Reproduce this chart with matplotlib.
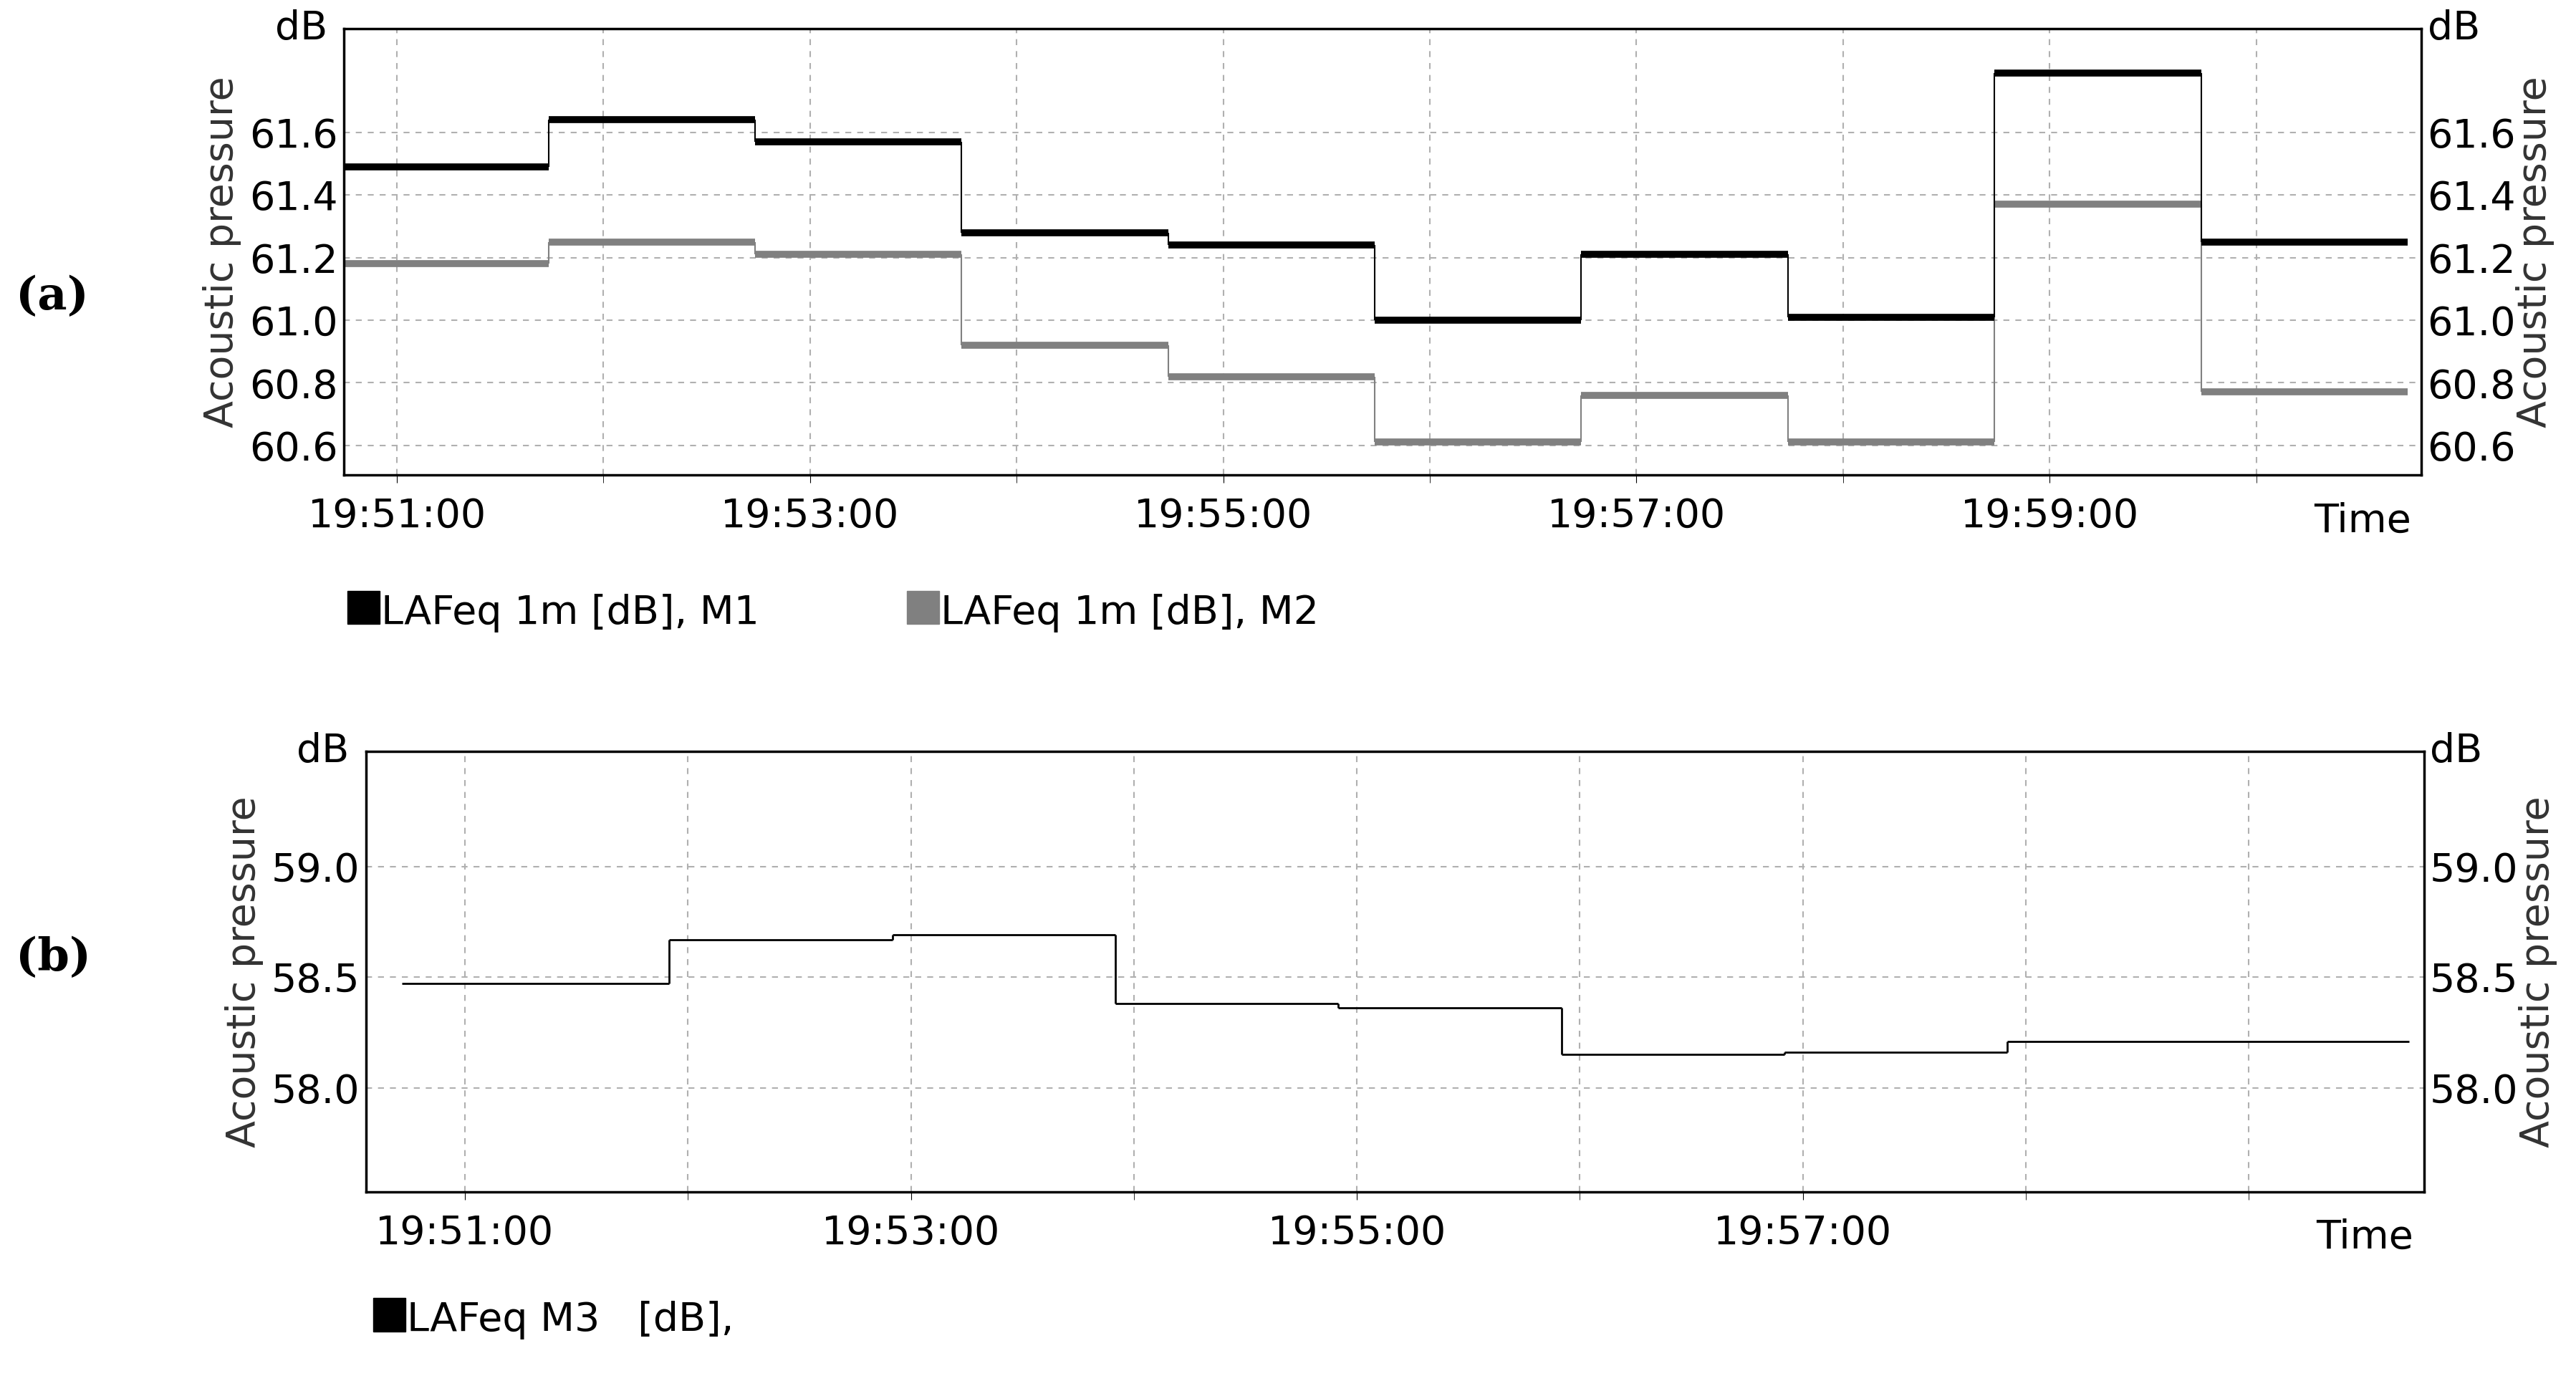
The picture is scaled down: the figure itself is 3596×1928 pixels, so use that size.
import matplotlib
matplotlib.use("Agg")
import matplotlib.pyplot as plt
import numpy as np

# time in minutes after 19:50:00
a_starts = [44/60 + i for i in range(10)]
a_step = 1.0
m1 = [61.49, 61.64, 61.57, 61.28, 61.24, 61.00, 61.21, 61.01, 61.79, 61.25]
m2 = [61.18, 61.25, 61.21, 60.92, 60.82, 60.61, 60.76, 60.61, 61.37, 60.77]
a_yticks = [60.6, 60.8, 61.0, 61.2, 61.4, 61.6]
a_xticks = [1, 3, 5, 7, 9]
a_xlabels = ["19:51:00", "19:53:00", "19:55:00", "19:57:00", "19:59:00"]

b_bounds = [43/60, 1+55/60, 2+55/60, 3+55/60, 4+55/60, 5+55/60, 6+55/60, 7+55/60, 9+43/60]
m3 = [58.47, 58.67, 58.69, 58.38, 58.36, 58.15, 58.16, 58.21]
b_yticks = [58.0, 58.5, 59.0]
b_xticks = [1, 3, 5, 7]
b_xlabels = ["19:51:00", "19:53:00", "19:55:00", "19:57:00"]

plt.rcParams['font.family'] = ['DejaVu Sans']
fig = plt.figure(figsize=(35.96, 19.28), dpi=100)
FS = 40
gridkw = dict(color='#b0b0b0', linestyle=(0, (4, 4)), linewidth=1.5)

def style(ax, ylim, xlim, yticks, ytfmt, xticks, xlabels):
    ax.set_xlim(*xlim); ax.set_ylim(*ylim)
    ax.set_yticks(yticks)
    ax.set_yticklabels([ytfmt % v for v in yticks], fontsize=FS)
    ax.set_xticks(xticks)
    ax.set_xticklabels(xlabels, fontsize=FS)
    ax.set_xticks(np.arange(np.ceil(xlim[0]), xlim[1], 1), minor=True)
    ax.xaxis.grid(True, which='both', **gridkw)
    ax.yaxis.grid(True, **gridkw)
    ax.tick_params(axis='x', which='both', length=8, pad=14)
    ax.tick_params(axis='y', length=0, pad=6)
    for s in ax.spines.values():
        s.set_linewidth(2.5)
    ax.set_ylabel("Acoustic pressure", fontsize=FS, color='#333333', labelpad=8)
    ax.text(-0.008, 1.0, "dB", transform=ax.transAxes, ha='right', va='center', fontsize=FS)
    ax.text(0.995, -0.06, "Time", transform=ax.transAxes, ha='right', va='top', fontsize=FS)
    ax2 = ax.twinx()
    ax2.set_ylim(*ylim)
    ax2.set_yticks(yticks)
    ax2.set_yticklabels([ytfmt % v for v in yticks], fontsize=FS)
    ax2.tick_params(axis='y', length=0, pad=6)
    ax2.set_ylabel("Acoustic pressure", fontsize=FS, color='#333333', rotation=90, labelpad=0)
    ax2.text(1.003, 1.0, "dB", transform=ax.transAxes, ha='left', va='center', fontsize=FS)
    return ax2

# panel (a)
ax = fig.add_axes([0.1335, 0.656, 0.8065, 0.323])
style(ax, (60.505, 61.93), (44.6/60, 10.8), a_yticks, "%.1f", a_xticks, a_xlabels)
for vals, col in [(m2, '#808080'), (m1, 'black')]:
    st = np.array(a_starts)
    ax.hlines(vals, st, st + a_step, colors=col, linewidth=7)
    ax.vlines(st[1:], vals[:-1], vals[1:], colors=col, linewidth=1.5)

# panel (b)
bx = fig.add_axes([0.142, 0.137, 0.799, 0.319])
style(bx, (57.53, 59.52), (0.556, 9.785), b_yticks, "%.1f", b_xticks, b_xlabels)
bb = np.array(b_bounds)
bx.hlines(m3, bb[:-1], bb[1:], colors='black', linewidth=2)
bx.vlines(bb[1:-1], m3[:-1], m3[1:], colors='black', linewidth=2)

# legends
def legend_item(x, y, color, label):
    fig.patches.append(plt.Rectangle((x, y), 0.0125, 0.024, transform=fig.transFigure, color=color))
    fig.text(x + 0.013, y - 0.006, label, fontsize=FS, va='bottom', ha='left')

legend_item(0.135, 0.548, 'black', "LAFeq 1m [dB], M1")
legend_item(0.352, 0.548, '#808080', "LAFeq 1m [dB], M2")
legend_item(0.145, 0.036, 'black', "LAFeq M3   [dB],")

fig.text(0.006, 0.785, "(a)", fontsize=46, family='DejaVu Serif', weight='bold', va='center')
fig.text(0.006, 0.306, "(b)", fontsize=46, family='DejaVu Serif', weight='bold', va='center')

fig.savefig("out.png", dpi=100)
